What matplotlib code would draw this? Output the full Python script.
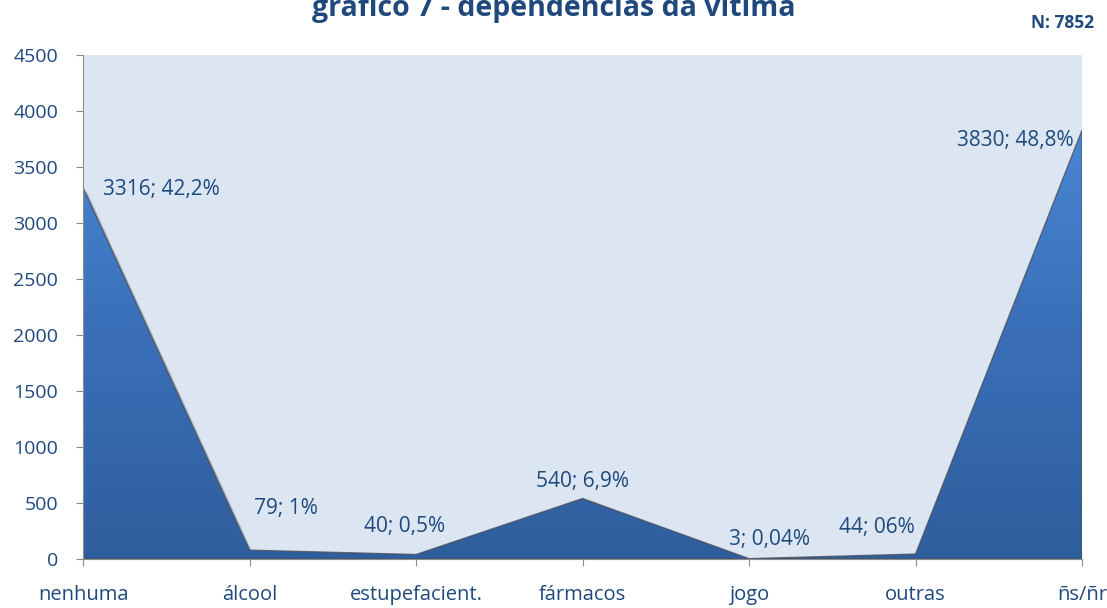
import numpy as np
import matplotlib
matplotlib.use('Agg')
import matplotlib.pyplot as plt
from matplotlib.colors import LinearSegmentedColormap
from matplotlib.patches import Polygon

plt.rcParams['font.family'] = ['Open Sans', 'DejaVu Sans']

categories = ['nenhuma', 'álcool', 'estupefacient.', 'fármacos', 'jogo', 'outras', 'ñs/ñr']
counts = [3316, 79, 40, 540, 3, 44, 3830]
labels = ['3316; 42,2%', '79; 1%', '40; 0,5%', '540; 6,9%', '3; 0,04%', '44; 06%', '3830; 48,8%']
yticks = [0, 500, 1000, 1500, 2000, 2500, 3000, 3500, 4000, 4500]
title = 'gráfico 7 - dependências da vítima'
n_note = 'N: 7852'

TXT = '#1F497D'
# label placement in pixels relative to each point
offsets = [(20, -2, 'left'), (36, 42, 'center'), (-11, 28, 'center'),
           (0, 17, 'center'), (20, 19, 'center'), (-39, 27, 'center'),
           (-8, -10, 'right')]

fig = plt.figure(figsize=(11.07, 6.08), dpi=100)
ax = fig.add_axes([0.075, 0.0806, 0.9025, 0.829])
ax.set_facecolor('#DCE6F2')

x = np.arange(len(categories))
ax.set_xlim(0, len(categories) - 1)
ax.set_ylim(0, 4500)

verts = [(x[0], 0)] + list(zip(x, counts)) + [(x[-1], 0)]
# soft shadow under the area
shadow = Polygon([(vx + 0.02, vy - 25) for vx, vy in verts], closed=True,
                 facecolor='#7f8a99', edgecolor='none', alpha=0.5, zorder=1)
ax.add_patch(shadow)
poly = Polygon(verts, closed=True, facecolor='none', edgecolor='#4a4f5a',
               linewidth=1.0, alpha=0.8, zorder=3)
ax.add_patch(poly)
cmap = LinearSegmentedColormap.from_list('g', ['#2F5E9C', '#3A6FB8', '#4A88D6'])
grad = np.linspace(0, 1, 256).reshape(-1, 1)
im = ax.imshow(grad, cmap=cmap, origin='lower', aspect='auto',
               extent=[0, len(categories) - 1, 0, 4000], zorder=2)
im.set_clip_path(poly)

for xi, v, lab, (dx, dy, ha) in zip(x, counts, labels, offsets):
    ax.annotate(lab, (xi, v), xytext=(dx, dy), textcoords='offset pixels',
                ha=ha, va='center', fontsize=15, color=TXT, zorder=5)

ax.set_xticks(x)
ax.set_xticklabels(categories)
ax.set_yticks(yticks)
for s in ['top', 'right']:
    ax.spines[s].set_visible(False)
for s in ['left', 'bottom']:
    ax.spines[s].set_color('#8c8c8c')
    ax.spines[s].set_zorder(6)
ax.tick_params(axis='x', colors='#8c8c8c', labelcolor=TXT, labelsize=14.5,
               length=5, pad=14)
ax.tick_params(axis='y', colors='#8c8c8c', labelcolor=TXT, labelsize=14,
               length=5, pad=13)

fig.text(0.5, 1 - 16 / 608, title, ha='center', va='baseline',
         fontsize=20.5, fontweight='bold', color=TXT)
fig.text(0.988, 1 - 28 / 608, n_note, ha='right', va='baseline',
         fontsize=12.5, fontweight='bold', color=TXT)

fig.savefig('out.png', dpi=100)
